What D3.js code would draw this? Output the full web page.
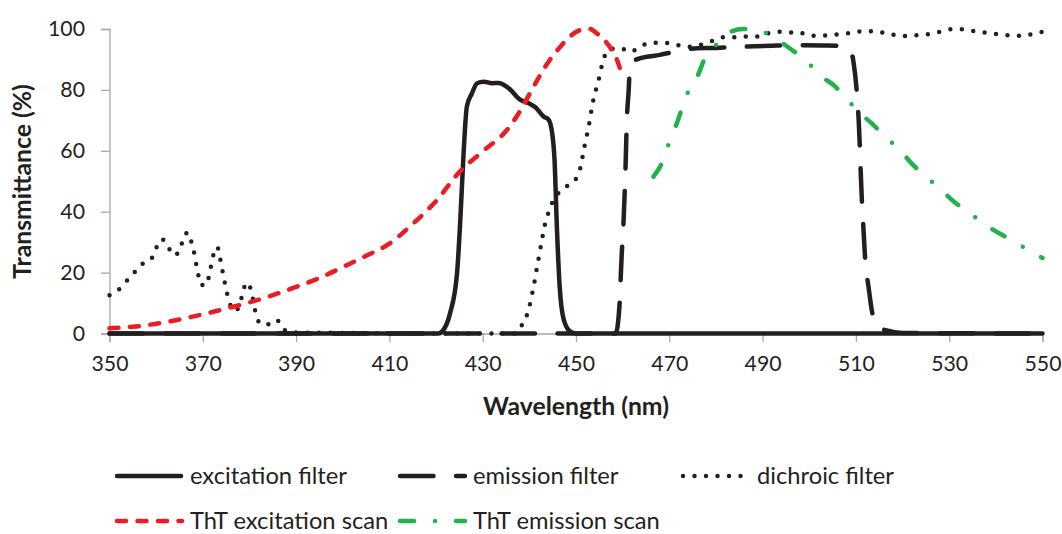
<!DOCTYPE html>
<html><head><meta charset="utf-8">
<script src="https://cdn.jsdelivr.net/npm/d3@7"></script>
<style>html,body{margin:0;padding:0;background:#fff;}svg{display:block;}</style>
</head><body>
<svg id="chart" width="1062" height="534"></svg>
<script>
// ---------- DATA ----------
const xTicks = [350, 370, 390, 410, 430, 450, 470, 490, 510, 530, 550];
const yTicks = [0, 20, 40, 60, 80, 100];

const excitationNm = [350, 420.5, 421.5, 423, 424.5, 425.2, 425.9, 426.6, 427.7, 428.8, 430.2, 432, 433.4, 435.6, 438.1, 439.9, 441.3, 443.1, 444.1, 444.9, 445.4, 445.9, 446.5, 447.4, 448.8, 450, 550];
const excitationT  = [0, 0, 1, 6.6, 19.8, 37.3, 59.2, 74.5, 78.9, 82.2, 82.7, 82.2, 82.3, 80.5, 76.7, 75.6, 74.3, 71.2, 70.3, 65.7, 57, 35, 15.4, 4.4, 0.6, 0, 0];

const emissionNm = [350, 458.5, 459.3, 459.8, 460.2, 460.6, 460.9, 461.3, 461.6, 462.3, 463.8, 468, 472, 476, 480, 486, 492, 498, 503, 507.3, 508.7, 509.5, 510.1, 510.6, 511.3, 511.6, 512, 512.7, 513.4, 514.5, 516.6, 520, 550];
const emissionT  = [0, 0, 8.8, 26, 37, 53.7, 70, 80, 88.7, 89.5, 90.4, 91.5, 92.8, 93.7, 93.8, 94.2, 94.5, 94.7, 94.6, 94.4, 93.5, 89, 81, 70, 43, 35, 24, 15.4, 7.7, 2.2, 1, 0.2, 0];

const dichroicNm = [350, 352.4, 354, 355.5, 357, 358.9, 359.9, 361.1, 362.5, 363.5, 365, 365.6, 366.8, 367.5, 368.1, 369, 369.7, 370.8, 371.4, 372.4, 373.1, 373.7, 374.6, 375.7, 376.9, 378.1, 378.6, 379.7, 380.4, 381.4, 382.4, 384.3, 385.9, 387.2, 389.5, 437, 437.4, 438.9, 439.7, 440.8, 441.6, 442.5, 443.4, 444.1, 444.9, 446.3, 448.1, 449.9, 450.9, 451.8, 452.8, 453.6, 454.8, 455.9, 457.2, 459.5, 461.6, 463.8, 466, 468.2, 470.6, 472.7, 474.9, 477.3, 479.5, 481.6, 484.1, 486.4, 488.8, 491.1, 493.4, 495.8, 498, 500, 502.2, 504.5, 506.8, 509.3, 511.6, 514, 516.4, 518.6, 521, 523.4, 525.8, 528, 530.3, 532.7, 535, 537.3, 539.7, 542, 544.3, 546.8, 549.1, 550];
const dichroicT  = [12.6, 15, 17.8, 20.3, 22.8, 24.4, 27.7, 31, 29, 25.8, 26.7, 30.1, 33.2, 30.4, 26.8, 19.5, 15.9, 15.9, 19.5, 26.5, 28.4, 24.7, 17.5, 10.3, 7.4, 10.4, 14, 16.7, 13.7, 6.4, 3.1, 3, 4.4, 1.4, 0.3, 0, 1.1, 3.9, 7.2, 14.5, 21.4, 29, 36.2, 39.7, 43, 46.2, 48.4, 50.6, 54.2, 61.3, 68.7, 75.9, 83, 90.1, 93.3, 93.7, 92.5, 94.2, 95.5, 95.5, 95.3, 94.4, 94.2, 95.1, 96.2, 97.3, 97.3, 97.5, 97.5, 98.6, 99.1, 98.9, 98.8, 97.8, 97.8, 98, 98.4, 98.8, 99.3, 99.3, 98.6, 98, 97.7, 98, 98.4, 99.1, 99.9, 99.9, 99.4, 98.9, 98.4, 98, 97.8, 98, 98.9, 99];

const thtExNm = [350, 355, 360, 365, 370, 375, 380, 385, 390, 395, 400, 405, 410, 415, 420, 425, 430, 435, 438, 440, 442, 444, 446, 448, 450, 452, 453, 454.5, 456, 457.5, 459, 460];
const thtExT  = [1.7, 2.2, 3.2, 4.6, 6.3, 8.2, 10.2, 12.6, 15.3, 18.2, 21.8, 25.5, 29.5, 36, 43.5, 53, 59.8, 66.5, 73, 78.5, 84, 89, 93, 96.5, 99, 100, 100, 98.5, 96.5, 93.5, 89, 84];

const thtEmNm = [466.6, 468.4, 469.8, 471.6, 473.9, 476.3, 477.3, 479.8, 482.7, 485.9, 490, 493.8, 496.3, 499.5, 502.7, 505.2, 508.1, 510.9, 513.4, 516.4, 519.5, 521.6, 524.7, 528, 530.2, 533.6, 537, 539.5, 543.4, 547, 550];
const thtEmT  = [51.5, 55.9, 61.9, 69, 78.9, 85.4, 89.3, 94.4, 98.8, 100, 99.1, 95.8, 93.1, 89.3, 84.3, 81.6, 76.9, 72.3, 69, 64.4, 60.3, 56.4, 51.8, 47.7, 44.4, 40.3, 36.7, 34, 30.7, 27.4, 24.8];

const seriesNames = ["excitation filter", "emission filter", "dichroic filter", "ThT excitation scan", "ThT emission scan"];

// ---------- STYLES ----------
const INK = "#231f20";
const styles = [
  {color: INK, dash: null, cap: "round"},
  {color: INK, dash: "33.5,22.5", cap: "round"},
  {color: INK, dash: "0,11.5", cap: "round"},
  {color: "#ed1c24", dash: "9,11.5", cap: "round"},
  {color: "#22b14c", dash: "14,21,0,21", cap: "round"}
];
const LW = 4.5;
const FONT = "Lato, 'Open Sans', sans-serif";

const svg = d3.select("#chart");

function fitSize(text, weight, target) {
  const t = svg.append("text").attr("font-family", FONT).attr("font-weight", weight)
    .attr("font-size", 100).text(text);
  const w = t.node().getComputedTextLength();
  t.remove();
  return 100 * target / w;
}
const fsLegend = fitSize("excitation filter", "normal", 157);
const fsTick = fitSize("100", "normal", 37);
const fsTitle = fitSize("Wavelength (nm)", "bold", 186);

const x = d3.scaleLinear().domain([350, 550]).range([109.5, 1042.5]);
const y = d3.scaleLinear().domain([0, 100]).range([333.5, 29]);

// axes
const yAxis = svg.append("g").attr("transform", `translate(${x(350)},0)`)
  .call(d3.axisLeft(y).tickValues(yTicks).tickSize(8.5).tickPadding(16));
const xAxis = svg.append("g").attr("transform", `translate(0,${y(0)})`)
  .call(d3.axisBottom(x).tickValues(xTicks).tickSize(8.5).tickPadding(14));
[yAxis, xAxis].forEach(g => {
  g.selectAll("path.domain").attr("stroke", "#a6a6a6").attr("stroke-width", 1.3);
  g.selectAll(".tick line").attr("stroke", "#a6a6a6").attr("stroke-width", 1.3);
  g.selectAll("text").attr("font-family", FONT).attr("font-size", fsTick).attr("fill", INK);
});

// titles
svg.append("text").attr("x", 576).attr("y", 415).attr("text-anchor", "middle")
  .attr("font-family", FONT).attr("font-weight", "bold").attr("font-size", fsTitle)
  .attr("fill", INK).text("Wavelength (nm)");
svg.append("text").attr("transform", "translate(31,181.5) rotate(-90)").attr("text-anchor", "middle")
  .attr("font-family", FONT).attr("font-weight", "bold").attr("font-size", fsTitle)
  .attr("fill", INK).text("Transmittance (%)");

// series
const seriesData = [
  [excitationNm, excitationT],
  [emissionNm, emissionT],
  [dichroicNm, dichroicT],
  [thtExNm, thtExT],
  [thtEmNm, thtEmT]
];
const line = d3.line().x(d => x(d[0])).y(d => y(d[1])).curve(d3.curveMonotoneX);
seriesData.forEach((s, i) => {
  const pts = s[0].map((v, j) => [v, s[1][j]]);
  const st = styles[i];
  svg.append("path").datum(pts).attr("d", line)
    .attr("fill", "none").attr("stroke", st.color).attr("stroke-width", LW)
    .attr("stroke-linecap", st.cap).attr("stroke-linejoin", "round")
    .attr("stroke-dasharray", st.dash);
});

// legend
const legendPos = [
  {x0: 117, x1: 181, tx: 190, y: 476},
  {x0: 400, x1: 465, tx: 473, y: 476},
  {x0: 683, x1: 742, tx: 757, y: 476},
  {x0: 117, x1: 182, tx: 190, y: 521},
  {x0: 400, x1: 465, tx: 473, y: 521}
];
seriesNames.forEach((name, i) => {
  const p = legendPos[i], st = styles[i];
  svg.append("line").attr("x1", p.x0).attr("x2", p.x1).attr("y1", p.y).attr("y2", p.y)
    .attr("stroke", st.color).attr("stroke-width", LW).attr("stroke-linecap", st.cap)
    .attr("stroke-dasharray", st.dash);
  svg.append("text").attr("x", p.tx).attr("y", p.y).attr("dy", "0.35em")
    .attr("font-family", FONT).attr("font-size", fsLegend).attr("fill", INK).text(name);
});
</script>
</body></html>
